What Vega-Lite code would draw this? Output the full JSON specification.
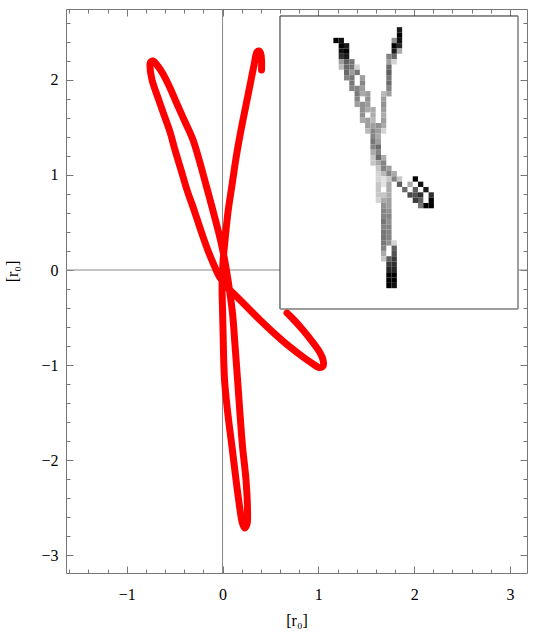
{
  "$schema": "https://vega.github.io/schema/vega-lite/v6.json",
  "width": 461,
  "height": 564,
  "autosize": "none",
  "padding": {"left": 66, "top": 9, "right": 13, "bottom": 70},
  "config": {
    "view": {"stroke": null},
    "axis": {
      "grid": false,
      "domainColor": "#777777",
      "tickColor": "#777777",
      "tickWidth": 1,
      "labelFont": "Liberation Serif",
      "labelFontSize": 16,
      "labelColor": "#000000",
      "titleFont": "Liberation Serif",
      "titleFontSize": 16,
      "titleFontWeight": "normal",
      "titleColor": "#000000",
      "labelOverlap": false,
      "labelFlush": false,
      "labelBound": false
    }
  },
  "datasets": {
    "curve": [
      {"o":1,"x":0.407,"y":2.105},{"o":2,"x":0.407,"y":2.211},{"o":3,"x":0.397,"y":2.284},{"o":4,"x":0.381,"y":2.305},{"o":5,"x":0.360,"y":2.295},
      {"o":6,"x":0.329,"y":2.158},{"o":7,"x":0.287,"y":1.947},{"o":8,"x":0.245,"y":1.737},{"o":9,"x":0.193,"y":1.474},{"o":10,"x":0.141,"y":1.179},
      {"o":11,"x":0.099,"y":0.895},{"o":12,"x":0.057,"y":0.611},{"o":13,"x":0.026,"y":0.316},{"o":14,"x":0.005,"y":0.084},{"o":15,"x":-0.005,"y":-0.158},
      {"o":16,"x":0.0,"y":-0.421},{"o":17,"x":0.005,"y":-0.632},{"o":18,"x":0.021,"y":-1.158},{"o":19,"x":0.057,"y":-1.526},{"o":20,"x":0.099,"y":-1.863},
      {"o":21,"x":0.141,"y":-2.211},{"o":22,"x":0.183,"y":-2.526},{"o":23,"x":0.204,"y":-2.653},{"o":24,"x":0.230,"y":-2.716},{"o":25,"x":0.256,"y":-2.674},
      {"o":26,"x":0.261,"y":-2.558},{"o":27,"x":0.245,"y":-2.211},{"o":28,"x":0.209,"y":-1.863},{"o":29,"x":0.183,"y":-1.526},{"o":30,"x":0.157,"y":-1.158},
      {"o":31,"x":0.130,"y":-0.789},{"o":32,"x":0.104,"y":-0.453},{"o":33,"x":0.057,"y":-0.105},{"o":34,"x":0.026,"y":0.084},{"o":35,"x":-0.005,"y":0.242},
      {"o":36,"x":-0.047,"y":0.421},{"o":37,"x":-0.110,"y":0.663},{"o":38,"x":-0.172,"y":0.895},{"o":39,"x":-0.235,"y":1.126},{"o":40,"x":-0.308,"y":1.368},
      {"o":41,"x":-0.391,"y":1.558},{"o":42,"x":-0.475,"y":1.747},{"o":43,"x":-0.548,"y":1.916},{"o":44,"x":-0.621,"y":2.063},{"o":45,"x":-0.684,"y":2.158},
      {"o":46,"x":-0.725,"y":2.200},{"o":47,"x":-0.752,"y":2.189},{"o":48,"x":-0.757,"y":2.137},{"o":49,"x":-0.736,"y":2.0},{"o":50,"x":-0.673,"y":1.811},
      {"o":51,"x":-0.611,"y":1.632},{"o":52,"x":-0.548,"y":1.453},{"o":53,"x":-0.496,"y":1.263},{"o":54,"x":-0.433,"y":1.053},{"o":55,"x":-0.371,"y":0.842},
      {"o":56,"x":-0.308,"y":0.663},{"o":57,"x":-0.235,"y":0.442},{"o":58,"x":-0.162,"y":0.232},{"o":59,"x":-0.099,"y":0.074},{"o":60,"x":-0.037,"y":-0.063},
      {"o":61,"x":0.037,"y":-0.168},{"o":62,"x":0.120,"y":-0.253},{"o":63,"x":0.235,"y":-0.368},{"o":64,"x":0.391,"y":-0.526},{"o":65,"x":0.548,"y":-0.674},
      {"o":66,"x":0.705,"y":-0.811},{"o":67,"x":0.840,"y":-0.916},{"o":68,"x":0.945,"y":-0.989},{"o":69,"x":1.007,"y":-1.026},{"o":70,"x":1.049,"y":-1.011},
      {"o":71,"x":1.049,"y":-0.947},{"o":72,"x":1.007,"y":-0.853},{"o":73,"x":0.924,"y":-0.737},{"o":74,"x":0.830,"y":-0.621},{"o":75,"x":0.746,"y":-0.526},
      {"o":76,"x":0.673,"y":-0.453}
    ],
    "box": [{"c":0,"r":0,"c2":45,"r2":55}],
    "edges": [{"c":45,"r":0,"c2":45,"r2":55},{"c":0,"r":55,"c2":45,"r2":55}],
    "img": [
      {"c":10,"r":4,"v":1.0},{"c":11,"r":4,"v":0.95},
      {"c":11,"r":5,"v":1.0},{"c":12,"r":5,"v":0.9},
      {"c":11,"r":6,"v":0.95},{"c":12,"r":6,"v":1.0},
      {"c":11,"r":7,"v":0.8},{"c":12,"r":7,"v":0.9},
      {"c":11,"r":8,"v":0.35},{"c":12,"r":8,"v":0.6},{"c":13,"r":8,"v":0.5},
      {"c":11,"r":9,"v":0.25},{"c":12,"r":9,"v":0.55},{"c":13,"r":9,"v":0.5},{"c":14,"r":9,"v":0.15},
      {"c":12,"r":10,"v":0.55},{"c":13,"r":10,"v":0.35},{"c":14,"r":10,"v":0.5},
      {"c":12,"r":11,"v":0.45},{"c":13,"r":11,"v":0.5},{"c":15,"r":11,"v":0.35},
      {"c":13,"r":12,"v":0.5},{"c":15,"r":12,"v":0.45},
      {"c":13,"r":13,"v":0.45},{"c":14,"r":13,"v":0.45},{"c":15,"r":13,"v":0.35},
      {"c":14,"r":14,"v":0.5},{"c":15,"r":14,"v":0.3},{"c":16,"r":14,"v":0.35},
      {"c":14,"r":15,"v":0.45},{"c":16,"r":15,"v":0.4},
      {"c":14,"r":16,"v":0.35},{"c":15,"r":16,"v":0.4},{"c":16,"r":16,"v":0.35},
      {"c":15,"r":17,"v":0.4},{"c":16,"r":17,"v":0.3},{"c":17,"r":17,"v":0.3},
      {"c":15,"r":18,"v":0.4},{"c":17,"r":18,"v":0.3},
      {"c":15,"r":19,"v":0.3},{"c":16,"r":19,"v":0.35},{"c":17,"r":19,"v":0.25},
      {"c":16,"r":20,"v":0.35},{"c":17,"r":20,"v":0.35},{"c":18,"r":20,"v":0.4},
      {"c":16,"r":21,"v":0.25},{"c":17,"r":21,"v":0.45},{"c":18,"r":21,"v":0.35},
      {"c":17,"r":22,"v":0.45},{"c":18,"r":22,"v":0.3},
      {"c":17,"r":23,"v":0.5},{"c":18,"r":23,"v":0.35},
      {"c":17,"r":24,"v":0.45},{"c":18,"r":24,"v":0.55},
      {"c":17,"r":25,"v":0.3},{"c":18,"r":25,"v":0.45},
      {"c":17,"r":26,"v":0.2},{"c":18,"r":26,"v":0.55},{"c":19,"r":26,"v":0.3},
      {"c":17,"r":27,"v":0.2},{"c":18,"r":27,"v":0.3},{"c":19,"r":27,"v":0.45},
      {"c":22,"r":2,"v":0.9},
      {"c":22,"r":3,"v":1.0},
      {"c":21,"r":4,"v":0.4},{"c":22,"r":4,"v":0.95},
      {"c":21,"r":5,"v":1.0},{"c":22,"r":5,"v":0.85},
      {"c":21,"r":6,"v":0.9},{"c":22,"r":6,"v":0.3},
      {"c":20,"r":7,"v":0.45},{"c":21,"r":7,"v":0.55},
      {"c":20,"r":8,"v":0.35},{"c":21,"r":8,"v":0.15},
      {"c":20,"r":9,"v":0.55},{"c":20,"r":10,"v":0.6},{"c":20,"r":11,"v":0.5},{"c":20,"r":12,"v":0.55},{"c":20,"r":13,"v":0.45},
      {"c":19,"r":14,"v":0.25},{"c":20,"r":14,"v":0.35},
      {"c":19,"r":15,"v":0.35},{"c":19,"r":16,"v":0.4},{"c":19,"r":17,"v":0.35},{"c":19,"r":18,"v":0.3},{"c":19,"r":19,"v":0.35},
      {"c":19,"r":20,"v":0.3},{"c":19,"r":21,"v":0.15},
      {"c":18,"r":28,"v":0.2},{"c":19,"r":28,"v":0.45},{"c":20,"r":28,"v":0.35},
      {"c":18,"r":29,"v":0.15},{"c":19,"r":29,"v":0.25},{"c":20,"r":29,"v":0.45},{"c":21,"r":29,"v":0.3},
      {"c":18,"r":30,"v":0.15},{"c":19,"r":30,"v":0.1},{"c":20,"r":30,"v":0.2},{"c":21,"r":30,"v":0.45},{"c":22,"r":30,"v":0.2},{"c":25,"r":30,"v":1.0},
      {"c":18,"r":31,"v":0.2},{"c":19,"r":31,"v":0.1},{"c":20,"r":31,"v":0.3},{"c":22,"r":31,"v":0.6},{"c":24,"r":31,"v":0.3},{"c":26,"r":31,"v":0.95},
      {"c":18,"r":32,"v":0.2},{"c":20,"r":32,"v":0.3},{"c":23,"r":32,"v":0.55},{"c":25,"r":32,"v":0.6},{"c":27,"r":32,"v":0.9},
      {"c":18,"r":33,"v":0.2},{"c":19,"r":33,"v":0.2},{"c":20,"r":33,"v":0.3},{"c":24,"r":33,"v":0.7},{"c":25,"r":33,"v":0.65},{"c":26,"r":33,"v":0.8},{"c":28,"r":33,"v":0.8},
      {"c":18,"r":34,"v":0.15},{"c":19,"r":34,"v":0.3},{"c":20,"r":34,"v":0.35},{"c":25,"r":34,"v":0.75},{"c":26,"r":34,"v":0.6},{"c":28,"r":34,"v":1.0},
      {"c":19,"r":35,"v":0.4},{"c":20,"r":35,"v":0.35},{"c":26,"r":35,"v":0.5},{"c":27,"r":35,"v":1.0},{"c":28,"r":35,"v":1.0},
      {"c":19,"r":36,"v":0.45},{"c":20,"r":36,"v":0.4},
      {"c":19,"r":37,"v":0.45},{"c":20,"r":37,"v":0.45},
      {"c":19,"r":38,"v":0.5},{"c":20,"r":38,"v":0.4},
      {"c":19,"r":39,"v":0.45},{"c":20,"r":39,"v":0.45},
      {"c":19,"r":40,"v":0.5},{"c":20,"r":40,"v":0.45},
      {"c":19,"r":41,"v":0.5},{"c":20,"r":41,"v":0.45},
      {"c":19,"r":42,"v":0.5},{"c":20,"r":42,"v":0.4},{"c":21,"r":42,"v":0.15},
      {"c":19,"r":43,"v":0.45},{"c":21,"r":43,"v":0.6},
      {"c":19,"r":44,"v":0.3},{"c":21,"r":44,"v":0.65},
      {"c":19,"r":45,"v":0.2},{"c":20,"r":45,"v":0.6},{"c":21,"r":45,"v":0.75},
      {"c":20,"r":46,"v":0.75},{"c":21,"r":46,"v":0.8},
      {"c":20,"r":47,"v":0.85},{"c":21,"r":47,"v":0.85},
      {"c":20,"r":48,"v":1.0},{"c":21,"r":48,"v":1.0},
      {"c":20,"r":49,"v":1.0},{"c":21,"r":49,"v":1.0},
      {"c":20,"r":50,"v":1.0},{"c":21,"r":50,"v":0.95}
    ]
  },
  "layer": [
    {
      "layer": [
        {
          "data": {"values": [{"v": 0}]},
          "mark": {"type": "rule", "color": "#888888", "strokeWidth": 1},
          "encoding": {
            "x": {"field": "v", "type": "quantitative",
              "scale": {"domain": [-1.634, 3.178], "nice": false, "zero": false},
              "axis": {"orient": "top", "values": [-1.6,-1.4,-1.2,-1,-0.8,-0.6,-0.4,-0.2,0,0.2,0.4,0.6,0.8,1,1.2,1.4,1.6,1.8,2,2.2,2.4,2.6,2.8,3],
                "tickSize": {"condition": {"test": "abs(datum.value-round(datum.value))<0.001", "value": -7}, "value": -4},
                "labels": false, "title": null}}
          }
        },
        {
          "data": {"values": [{"v": 0}]},
          "mark": {"type": "rule", "color": "#888888", "strokeWidth": 1},
          "encoding": {
            "y": {"field": "v", "type": "quantitative",
              "scale": {"domain": [-3.189, 2.747], "nice": false, "zero": false},
              "axis": {"orient": "right", "values": [-3,-2.8,-2.6,-2.4,-2.2,-2,-1.8,-1.6,-1.4,-1.2,-1,-0.8,-0.6,-0.4,-0.2,0,0.2,0.4,0.6,0.8,1,1.2,1.4,1.6,1.8,2,2.2,2.4,2.6],
                "tickSize": {"condition": {"test": "abs(datum.value-round(datum.value))<0.001", "value": -7}, "value": -4},
                "labels": false, "title": null}}
          }
        },
        {
          "data": {"name": "curve"},
          "mark": {"type": "line", "color": "#ff0000", "strokeWidth": 7, "strokeCap": "round", "strokeJoin": "round", "interpolate": "catmull-rom"},
          "encoding": {
            "x": {"field": "x", "type": "quantitative",
              "scale": {"domain": [-1.634, 3.178], "nice": false, "zero": false},
              "axis": {"orient": "bottom", "values": [-1.6,-1.4,-1.2,-1,-0.8,-0.6,-0.4,-0.2,0,0.2,0.4,0.6,0.8,1,1.2,1.4,1.6,1.8,2,2.2,2.4,2.6,2.8,3],
                "tickSize": {"condition": {"test": "abs(datum.value-round(datum.value))<0.001", "value": -7}, "value": -4},
                "labelExpr": "abs(datum.value-round(datum.value))<0.001 ? format(datum.value,'d') : ''",
                "labelPadding": 20, "title": "[r₀]", "titlePadding": 7}},
            "y": {"field": "y", "type": "quantitative",
              "scale": {"domain": [-3.189, 2.747], "nice": false, "zero": false},
              "axis": {"orient": "left", "values": [-3,-2.8,-2.6,-2.4,-2.2,-2,-1.8,-1.6,-1.4,-1.2,-1,-0.8,-0.6,-0.4,-0.2,0,0.2,0.4,0.6,0.8,1,1.2,1.4,1.6,1.8,2,2.2,2.4,2.6],
                "tickSize": {"condition": {"test": "abs(datum.value-round(datum.value))<0.001", "value": -7}, "value": -4},
                "labelExpr": "abs(datum.value-round(datum.value))<0.001 ? format(datum.value,'d') : ''",
                "labelPadding": 15, "title": "[r₀]", "titlePadding": 20, "titleY": 262}},
            "order": {"field": "o", "type": "quantitative"}
          }
        }
      ],
      "resolve": {"axis": {"x": "independent", "y": "independent"}}
    },
    {
      "layer": [
        {
          "data": {"name": "box"},
          "mark": {"type": "rect", "fill": "#ffffff", "stroke": "#222222", "strokeWidth": 1},
          "encoding": {
            "x": {"field": "c", "type": "quantitative", "scale": {"domain": [-40.46, 46.70], "nice": false, "zero": false}, "axis": null},
            "x2": {"field": "c2"},
            "y": {"field": "r", "type": "quantitative", "scale": {"domain": [-1.314, 104.56], "reverse": true, "nice": false, "zero": false}, "axis": null},
            "y2": {"field": "r2"}
          }
        },
        {
          "data": {"name": "img"},
          "mark": {"type": "rect", "binSpacing": 0, "strokeWidth": 0},
          "encoding": {
            "x": {"field": "c", "type": "quantitative", "bin": {"binned": true, "step": 1}, "scale": {"domain": [-40.46, 46.70], "nice": false, "zero": false}, "axis": null},
            "y": {"field": "r", "type": "quantitative", "bin": {"binned": true, "step": 1}, "scale": {"domain": [-1.314, 104.56], "reverse": true, "nice": false, "zero": false}, "axis": null},
            "color": {"field": "v", "type": "quantitative", "scale": {"domain": [0, 1], "range": ["#ffffff", "#000000"]}, "legend": null}
          }
        },
        {
          "data": {"name": "edges"},
          "mark": {"type": "rule", "color": "#aaaaaa", "strokeWidth": 1},
          "encoding": {
            "x": {"field": "c", "type": "quantitative", "scale": {"domain": [-40.46, 46.70], "nice": false, "zero": false}, "axis": null},
            "x2": {"field": "c2"},
            "y": {"field": "r", "type": "quantitative", "scale": {"domain": [-1.314, 104.56], "reverse": true, "nice": false, "zero": false}, "axis": null},
            "y2": {"field": "r2"}
          }
        }
      ]
    }
  ],
  "resolve": {"scale": {"x": "independent", "y": "independent"}}
}
